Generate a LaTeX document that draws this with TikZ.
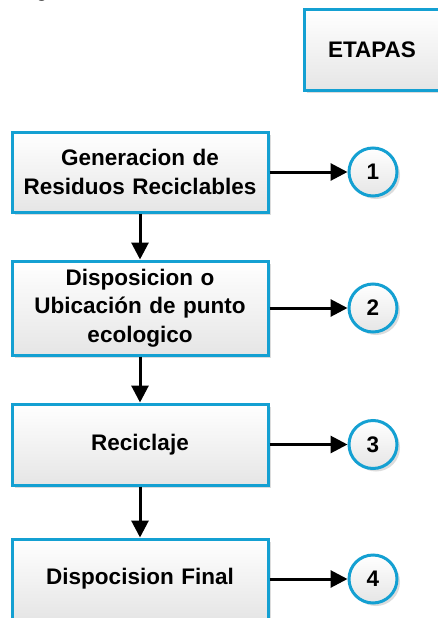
\documentclass[tikz,border=0pt]{standalone}
\usepackage{fontspec}
\setmainfont{Liberation Sans}
\usetikzlibrary{arrows.meta,shadows}
\definecolor{bordeblue}{RGB}{20,160,210}
\begin{document}
\begin{tikzpicture}[x=1pt,y=-1pt,
  boxshade/.style={draw=bordeblue, line width=3pt, top color=white, bottom color=black!10,
    drop shadow={shadow xshift=3pt, shadow yshift=-3pt, fill=black!30, opacity=0.45}},
  stepbox/.style={boxshade, rectangle, minimum width=256pt, align=center, inner sep=0pt,
    text width=250pt, font=\bfseries\fontsize{22.5}{28.5}\selectfont},
  numcirc/.style={boxshade, circle, minimum size=48pt, inner sep=0pt,
    font=\bfseries\fontsize{22.5}{27}\selectfont},
  conn/.style={line width=3pt, -{Triangle[length=17pt,width=17pt]}}
]
\useasboundingbox (0,0) rectangle (438,618);
\node[anchor=base, font=\fontsize{22.5}{27}\selectfont] (frag) at (42,-3.5) {g};
\node[stepbox, minimum width=136pt, minimum height=80pt, text width=130pt] (etapas) at (372,50) {ETAPAS};
\node[stepbox, minimum height=80pt] (g1) at (140,172) {Generacion de\\Residuos Reciclables};
\node[stepbox, minimum height=94pt] (g2) at (140,308) {Disposicion o\\Ubicación de punto\\ecologico};
\node[stepbox, minimum height=81pt] (g3) at (140,444.5) {Reciclaje};
\node[stepbox, minimum height=80pt] (g4) at (140,579) {Dispocision Final};
\node[numcirc] (c1) at (373,172) {1};
\node[numcirc] (c2) at (373,308) {2};
\node[numcirc] (c3) at (373,444.5) {3};
\node[numcirc] (c4) at (373,579) {4};
\draw[conn] (g1.south) -- (g2.north);
\draw[conn] (g2.south) -- (g3.north);
\draw[conn] (g3.south) -- (g4.north);
\draw[conn] (g1.east) -- (c1.west);
\draw[conn] (g2.east) -- (c2.west);
\draw[conn] (g3.east) -- (c3.west);
\draw[conn] (g4.east) -- (c4.west);
\end{tikzpicture}
\end{document}
